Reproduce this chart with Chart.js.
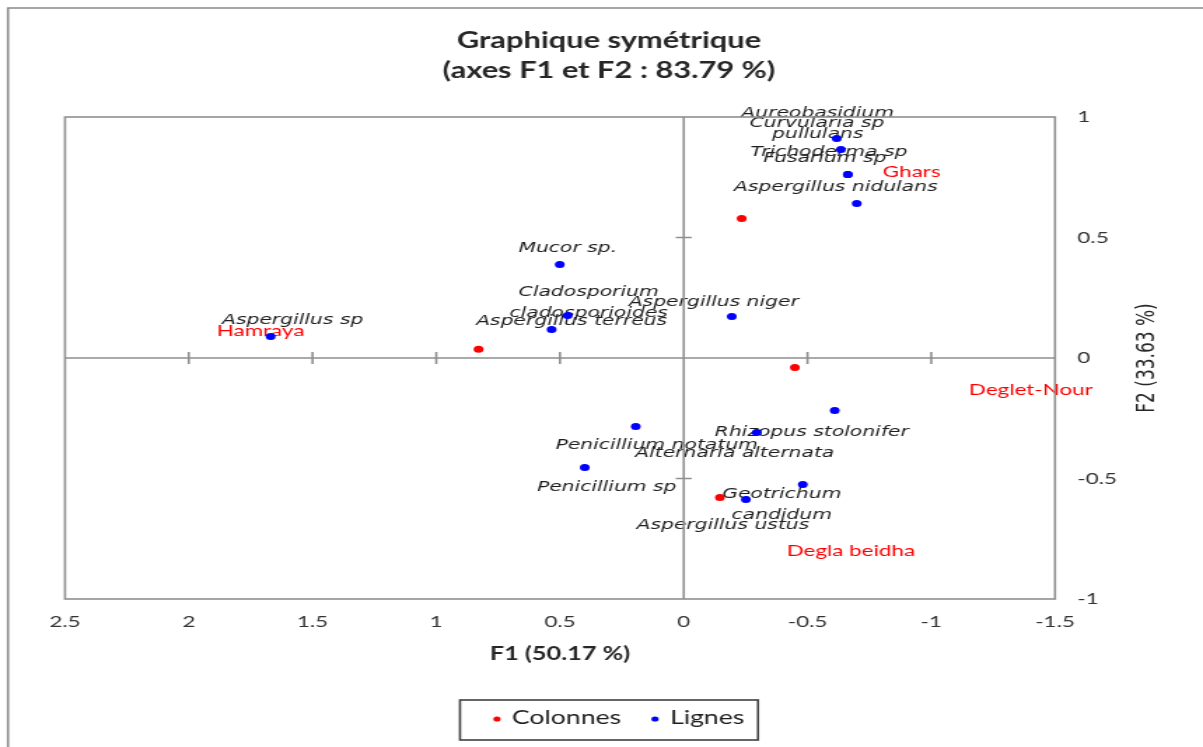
<!DOCTYPE html>
<html>
<head>
<meta charset="utf-8">
<script src="https://cdn.jsdelivr.net/npm/chart.js@4.4.1/dist/chart.umd.min.js"></script>
<style>
  html, body { margin: 0; padding: 0; background: #fff; }
  canvas { display: block; }
</style>
</head>
<body>
<canvas id="graphiqueAFC" width="859" height="747" style="width:1203px;height:747px"></canvas>
<script>
// la figure d'origine est étirée en largeur : on dessine sur 859 px puis on étire à 1203 px
const ETIRE = 1203 / 859;

// Lignes (champignons)
const lignesNoms = [
  ['Aureobasidium', 'pullulans'], 'Curvularia sp', 'Trichoderma sp', 'Fusarium sp',
  'Aspergillus nidulans', 'Mucor sp.', ['Cladosporium', 'cladosporioides'], 'Aspergillus terreus',
  'Aspergillus niger', 'Aspergillus sp', 'Rhizopus stolonifer', 'Penicillium notatum',
  'Alternaria alternata', 'Penicillium sp', ['Geotrichum', 'candidum'], 'Aspergillus ustus'
];
const lignesF1 = [-0.618, -0.635, -0.663, -0.663, -0.699, 0.501, 0.469, 0.534, -0.194, 1.669, -0.610, 0.194, -0.295, 0.400, -0.481, -0.251];
const lignesF2 = [0.911, 0.865, 0.761, 0.761, 0.641, 0.388, 0.176, 0.118, 0.172, 0.089, -0.218, -0.284, -0.309, -0.454, -0.525, -0.587];

// Colonnes (variétés de dattes)
const colonnesNoms = ['Ghars', 'Hamraya', 'Deglet-Nour', 'Degla beidha'];
const colonnesF1 = [-0.234, 0.829, -0.449, -0.146];
const colonnesF2 = [0.579, 0.036, -0.039, -0.579];

// graduations
const ticksF1 = [-1.5, -1, -0.5, 0, 0.5, 1, 1.5, 2, 2.5];
const ticksF2 = [-1, -0.5, 0, 0.5, 1];

// décalage des étiquettes par rapport au point (px de l'image finale)
const decalLignes = [[-19, -15], [-24, -26], [-19, -22], [-23, -16], [-21, -16], [8, -16], [21, -13], [20, -8],
  [-18, -14], [22, -16], [-23, 22], [21, 19], [-22, 21], [22, 20], [-21, 20], [-23, 26]];
const decalColonnes = [[170, -47], [-218, -18], [236, 22], [131, 53]];

const decalages = [decalColonnes, decalLignes];
const nomsSeries = [colonnesNoms, lignesNoms];

function points(xs, ys) {
  return xs.map((x, i) => ({ x: x, y: ys[i] }));
}

const pluginDessin = {
  id: 'dessinAFC',
  beforeDatasetsDraw(chart) {
    const ctx = chart.ctx;
    const zone = chart.chartArea;
    const sx = chart.scales.x, sy = chart.scales.y;

    // étiquettes des points (sous les traits et les points)
    ctx.save();
    ctx.textAlign = 'center';
    ctx.textBaseline = 'middle';
    chart.data.datasets.forEach((ds, d) => {
      const meta = chart.getDatasetMeta(d);
      ctx.fillStyle = d === 0 ? '#ff0000' : '#1e1e1e';
      ctx.font = d === 0 ? '16px Lato' : 'italic 14.5px "DejaVu Sans"';
      meta.data.forEach((el, j) => {
        const nom = nomsSeries[d][j];
        const lignes = Array.isArray(nom) ? nom : [nom];
        const dx = decalages[d][j][0] / ETIRE;
        const dy = decalages[d][j][1];
        lignes.forEach((t, k) => {
          ctx.fillText(t, el.x + dx, el.y + dy + (k - (lignes.length - 1) / 2) * 21);
        });
      });
    });
    ctx.restore();

    // cadre et axes passant par l'origine
    ctx.save();
    ctx.strokeStyle = '#8f8f8f';
    ctx.lineWidth = 1.6;
    ctx.strokeRect(zone.left, zone.top, zone.right - zone.left, zone.bottom - zone.top);
    const x0 = sx.getPixelForValue(0);
    const y0 = sy.getPixelForValue(0);
    ctx.beginPath();
    ctx.moveTo(zone.left, y0); ctx.lineTo(zone.right, y0);
    ctx.moveTo(x0, zone.top); ctx.lineTo(x0, zone.bottom);
    ticksF1.forEach(v => {
      if (v === 0 || v === sx.min || v === sx.max) return;
      const px = sx.getPixelForValue(v);
      ctx.moveTo(px, y0 - 6); ctx.lineTo(px, y0 + 6);
    });
    ticksF2.forEach(v => {
      if (v === 0 || v === sy.min || v === sy.max) return;
      const py = sy.getPixelForValue(v);
      ctx.moveTo(x0 - 8 / ETIRE, py); ctx.lineTo(x0 + 8 / ETIRE, py);
    });
    ctx.stroke();
    ctx.restore();
  },
  afterDraw(chart) {
    const ctx = chart.ctx;
    ctx.save();
    // bord de l'image
    ctx.strokeStyle = '#8a8a8a';
    ctx.lineWidth = 1.6;
    ctx.beginPath();
    ctx.moveTo(8 / ETIRE, 747); ctx.lineTo(8 / ETIRE, 8); ctx.lineTo(859, 8);
    ctx.stroke();

    // titre
    ctx.fillStyle = '#262626';
    ctx.textAlign = 'center';
    ctx.textBaseline = 'middle';
    ctx.font = 'bold 22px Lato';
    ctx.fillText('Graphique symétrique', 609 / ETIRE, 41);
    ctx.fillText('(axes F1 et F2 : 83.79 %)', 609 / ETIRE, 71);

    // titre de l'axe F2, lu de bas en haut
    ctx.font = '17px "DejaVu Sans"';
    ctx.translate(1148 / ETIRE, (chart.chartArea.top + chart.chartArea.bottom) / 2);
    ctx.rotate(-Math.PI / 2);
    ctx.fillText('F2 (33.63 %)', 0, 0);
    ctx.restore();

    // légende
    ctx.save();
    ctx.strokeStyle = '#404040';
    ctx.lineWidth = 1.6;
    ctx.strokeRect(460 / ETIRE, 700, 298 / ETIRE, 40);
    ctx.font = '19px Lato';
    ctx.textBaseline = 'middle';
    const posLeg = [497, 655];
    chart.data.datasets.forEach((ds, d) => {
      ctx.fillStyle = ds.backgroundColor;
      ctx.beginPath();
      ctx.arc(posLeg[d] / ETIRE, 719, 2.6, 0, Math.PI * 2);
      ctx.fill();
      ctx.fillStyle = '#1e1e1e';
      ctx.fillText(ds.label, (posLeg[d] + 15) / ETIRE, 718);
    });
    ctx.restore();
  }
};

new Chart(document.getElementById('graphiqueAFC').getContext('2d'), {
  type: 'scatter',
  data: {
    datasets: [{
      label: 'Colonnes',
      data: points(colonnesF1, colonnesF2),
      backgroundColor: '#ff0000',
      borderWidth: 0,
      pointRadius: 3.5
    }, {
      label: 'Lignes',
      data: points(lignesF1, lignesF2),
      backgroundColor: '#0000ff',
      borderWidth: 0,
      pointRadius: 3.5
    }]
  },
  options: {
    responsive: false,
    animation: false,
    devicePixelRatio: 1,
    layout: { padding: { left: 65 / ETIRE, top: 117, right: 0, bottom: 0 } },
    plugins: {
      legend: { display: false },
      title: { display: false },
      tooltip: { enabled: false }
    },
    scales: {
      x: {
        type: 'linear',
        min: -1.5,
        max: 2.5,
        reverse: true,
        grid: { display: false, drawTicks: false },
        border: { display: false },
        afterBuildTicks: s => { s.ticks = ticksF1.map(v => ({ value: v })); },
        afterFit: s => { s.height = 148; },
        ticks: {
          padding: 13,
          color: '#333',
          autoSkip: false,
          maxRotation: 0,
          font: { family: 'Lato', size: 16 },
          callback: v => String(v)
        },
        title: {
          display: true,
          text: 'F1 (50.17 %)',
          color: '#262626',
          font: { family: 'Lato', size: 18, weight: 'bold' },
          padding: { top: 0, bottom: 82 }
        }
      },
      y: {
        type: 'linear',
        position: 'right',
        min: -1,
        max: 1,
        grid: { display: false, drawTicks: false },
        border: { display: false },
        afterBuildTicks: s => { s.ticks = ticksF2.map(v => ({ value: v })); },
        afterFit: s => { s.width = 859 - 1055 / ETIRE; },
        ticks: {
          padding: 16,
          color: '#333',
          font: { family: 'Lato', size: 16 },
          callback: v => String(v)
        }
      }
    }
  },
  plugins: [pluginDessin]
});
</script>
</body>
</html>
